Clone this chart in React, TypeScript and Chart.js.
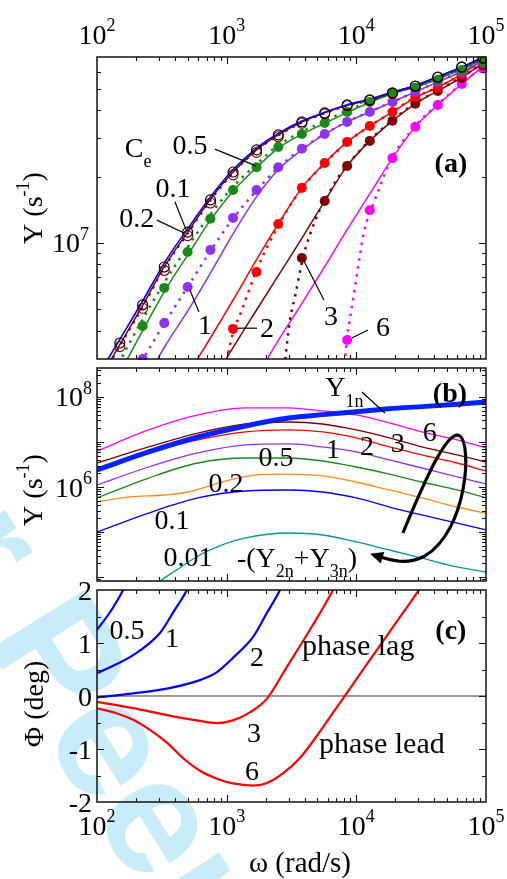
import React, { useEffect, useRef } from "react";
import { Chart, registerables } from "chart.js";
Chart.register(...registerables);

const W = 507;
const H = 879;
const FAMILY = '"Liberation Serif", "DejaVu Serif", serif';

// ---------------- shared x axis ----------------
const X_MIN = 100;
const X_MAX = 100000;
const xDecades = [100, 1000, 10000, 100000];
const xDecadeExp = ["2", "3", "4", "5"];
const minorMult = [2, 3, 4, 5, 6, 7, 8, 9];

// ---------------- panel (a) ----------------
const A_YMIN = 2.97e6;
const A_YMAX = 7.0e7;
const aYMajor = [1e7];
const aYMajorExp = ["7"];
const aYMinor = [3e6, 4e6, 5e6, 6e6, 7e6, 8e6, 9e6, 2e7, 3e7, 4e7, 5e7, 6e7];

const omegaA = [150, 225, 330, 500, 750, 1120, 1700, 2500, 3800, 5700, 8500, 12700, 19000, 28500, 42500, 65000, 95000];
const circOpen01 = [3.51e6, 5.23e6, 7.78e6, 1.12e7, 1.57e7, 2.1e7, 2.65e7, 3.1e7, 3.55e7, 3.9e7, 4.24e7, 4.47e7, 4.81e7, 5.17e7, 5.68e7, 6.31e7, 6.93e7];
const circOpen02 = [3.38e6, 5.05e6, 7.5e6, 1.08e7, 1.52e7, 2.04e7, 2.58e7, 3.04e7, 3.5e7, 3.86e7, 4.2e7, 4.44e7, 4.78e7, 5.14e7, 5.65e7, 6.28e7, 6.9e7];
const circ05 = [null, 4.2e6, 6.25e6, 9.1e6, 1.29e7, 1.74e7, 2.21e7, 2.73e7, 3.13e7, 3.51e7, 3.94e7, 4.37e7, 4.81e7, 5.07e7, 5.51e7, 6.11e7, 6.65e7];
const circ1 = [null, 2.97e6, 4.33e6, 6.31e6, 9.3e6, 1.3e7, 1.74e7, 2.21e7, 2.68e7, 3.13e7, 3.55e7, 3.94e7, 4.37e7, 4.86e7, 5.39e7, 5.99e7, 6.58e7];
const circ2 = [null, null, null, null, null, 4.07e6, 7.38e6, 1.22e7, 1.78e7, 2.31e7, 2.88e7, 3.4e7, 3.94e7, 4.61e7, 5.07e7, 5.85e7, 6.7e7];
const circ3 = [null, null, null, null, null, null, null, null, 8.55e6, 1.55e7, 2.24e7, 2.91e7, 3.59e7, 4.29e7, 4.91e7, 5.6e7, 6.4e7];
const circ6 = [null, null, null, null, null, null, null, null, null, null, 3.62e6, 1.41e7, 2.43e7, 3.37e7, 4.24e7, 5.28e7, 6.2e7];

const omegaLineA = [100, 150, 225, 330, 500, 750, 1120, 1700, 2500, 3800, 5700, 8500, 12700, 19000, 28500, 42500, 65000, 100000];
const line01 = [2.45e6, 3.65e6, 5.45e6, 8.1e6, 1.16e7, 1.62e7, 2.15e7, 2.7e7, 3.15e7, 3.58e7, 3.93e7, 4.25e7, 4.5e7, 4.85e7, 5.2e7, 5.7e7, 6.3e7, 7.1e7];
const line02 = [2.3e6, 3.45e6, 5.2e6, 7.8e6, 1.12e7, 1.58e7, 2.1e7, 2.65e7, 3.1e7, 3.54e7, 3.9e7, 4.22e7, 4.47e7, 4.82e7, 5.17e7, 5.67e7, 6.27e7, 7.05e7];
const dot02 = [2.25e6, 3.4e6, 5.1e6, 7.7e6, 1.1e7, 1.56e7, 2.08e7, 2.63e7, 3.08e7, 3.52e7, 3.88e7, 4.2e7, 4.45e7, 4.8e7, 5.15e7, 5.65e7, 6.25e7, 7.0e7];
const line05 = [1.55e6, 2.55e6, 4.0e6, 6.0e6, 8.8e6, 1.27e7, 1.72e7, 2.2e7, 2.7e7, 3.12e7, 3.5e7, 3.92e7, 4.35e7, 4.78e7, 5.1e7, 5.55e7, 6.15e7, 6.95e7];
const dot05 = [1.8e6, 2.9e6, 4.5e6, 6.6e6, 9.6e6, 1.35e7, 1.8e7, 2.28e7, 2.78e7, 3.2e7, 3.58e7, 4.0e7, 4.4e7, 4.82e7, 5.12e7, 5.58e7, 6.18e7, 6.95e7];
const line1 = [1.05e6, 1.55e6, 2.25e6, 3.35e6, 4.9e6, 7.3e6, 1.1e7, 1.62e7, 2.15e7, 2.65e7, 3.12e7, 3.55e7, 3.94e7, 4.37e7, 4.86e7, 5.39e7, 6.0e7, 6.85e7];
const dot1 = [1.3e6, 2.0e6, 2.95e6, 4.3e6, 6.3e6, 9.2e6, 1.29e7, 1.73e7, 2.2e7, 2.68e7, 3.13e7, 3.56e7, 3.95e7, 4.38e7, 4.87e7, 5.4e7, 6.0e7, 6.85e7];
const line2 = [4.5e5, 7.0e5, 1.05e6, 1.6e6, 2.5e6, 3.7e6, 5.5e6, 8.4e6, 1.22e7, 1.78e7, 2.31e7, 2.88e7, 3.4e7, 3.94e7, 4.58e7, 5.1e7, 5.85e7, 6.9e7];
const omegaDot2 = [900, 1000, 1120, 1300, 1700, 2500, 3800, 5700, 8500, 12700, 19000, 28500, 42500, 65000, 100000];
const dot2 = [2.1e6, 2.9e6, 3.9e6, 4.9e6, 7.5e6, 1.2e7, 1.77e7, 2.3e7, 2.87e7, 3.4e7, 3.95e7, 4.6e7, 5.1e7, 5.85e7, 6.9e7];
const omegaLine3 = [700, 1000, 1700, 2500, 3800, 5700, 8500, 12700, 19000, 28500, 42500, 65000, 100000];
const line3 = [2.1e6, 3.0e6, 4.96e6, 7.1e6, 1.05e7, 1.55e7, 2.24e7, 2.91e7, 3.59e7, 4.29e7, 4.91e7, 5.65e7, 6.7e7];
const omegaDot3 = [2700, 2864, 3077, 3362, 3876, 4385, 5236, 5929, 7079, 8466, 12700, 19000, 28500, 42500, 65000, 100000];
const dot3 = [2.3e6, 3.16e6, 4.47e6, 5.69e6, 8.55e6, 1.09e7, 1.42e7, 1.62e7, 1.95e7, 2.25e7, 2.93e7, 3.62e7, 4.32e7, 4.93e7, 5.68e7, 6.7e7];
const omegaLine6 = [1800, 2080, 2500, 3800, 5700, 8500, 12700, 19000, 28500, 42500, 65000, 100000];
const line6 = [2.5e6, 3.0e6, 3.6e6, 5.3e6, 7.8e6, 1.15e7, 1.67e7, 2.43e7, 3.37e7, 4.24e7, 5.28e7, 6.5e7];
const omegaDot6 = [8000, 8470, 9750, 10670, 11640, 13150, 15690, 18100, 28500, 42500, 65000, 100000];
const dot6 = [2.6e6, 3.62e6, 6.24e6, 8.82e6, 1.17e7, 1.44e7, 1.89e7, 2.33e7, 3.4e7, 4.27e7, 5.3e7, 6.5e7];

// ---------------- panel (b) ----------------
const B_YMIN = 8150;
const B_YMAX = 4.4e8;
const bYMajor = [1e4, 1e5, 1e6, 1e7, 1e8];
const bYLabelVals = [1e8, 1e6];
const bYLabelExp = ["8", "6"];
const bYMinorDecades = [1e3, 1e4, 1e5, 1e6, 1e7, 1e8];

const omegaB = [100, 250, 600, 1400, 3000, 5500, 10000, 18000, 32000, 60000, 100000];
const bY1n = [2.39e6, 6.0e6, 1.29e7, 2.27e7, 3.4e7, 4.05e7, 4.7e7, 5.5e7, 6.1e7, 6.9e7, 7.7e7];
const b6 = [6.3e6, 1.85e7, 3.98e7, 5.7e7, 5.75e7, 4.89e7, 3.98e7, 2.64e7, 1.67e7, 1.11e7, 7.36e6];
const b3 = [3.41e6, 7.74e6, 1.58e7, 2.51e7, 2.78e7, 2.51e7, 1.85e7, 1.23e7, 7.74e6, 5.14e6, 3.59e6];
const b2 = [2.27e6, 5.7e6, 1.11e7, 1.67e7, 1.85e7, 1.67e7, 1.23e7, 7.74e6, 5.14e6, 3.41e6, 2.27e6];
const b1 = [1.11e6, 2.78e6, 5.7e6, 8.58e6, 9.03e6, 7.74e6, 6.0e6, 3.98e6, 2.64e6, 1.67e6, 1.17e6];
const b05 = [5.7e5, 1.58e6, 3.41e6, 4.41e6, 4.41e6, 3.78e6, 2.78e6, 1.94e6, 1.29e6, 8.58e5, 5.7e5];
const b01 = [1.0e5, 2.64e5, 5.7e5, 8.15e5, 8.58e5, 7.74e5, 5.7e5, 3.59e5, 2.39e5, 1.58e5, 1.11e5];
const omegaB02 = [100, 180, 330, 500, 1060, 1700, 2800, 5500, 10000, 18000, 32000, 60000, 100000];
const b02 = [4.64e5, 6.0e5, 6.64e5, 7.74e5, 1.43e6, 1.85e6, 1.94e6, 1.76e6, 1.29e6, 8.58e5, 5.7e5, 3.59e5, 2.6e5];
const omegaB001 = [250, 300, 400, 600, 800, 1400, 3000, 5500, 10000, 18000, 32000, 60000, 100000];
const b001 = [4.6e3, 7.7e3, 1.36e4, 2.93e4, 4.4e4, 7.36e4, 9.5e4, 8.58e4, 6.0e4, 3.98e4, 2.64e4, 1.67e4, 1.29e4];

// ---------------- panel (c) ----------------
const C_YMIN = -2;
const C_YMAX = 2;
const cYMajor = [-2, -1, 0, 1, 2];
const cYLabels = ["-2", "-1", "0", "1", "2"];
const cYMinor = [-1.5, -0.5, 0.5, 1.5];

const omegaC05 = [100, 126, 159, 180];
const c05 = [1.25, 1.58, 2.0, 2.3];
const omegaC1 = [100, 190, 306, 385, 494, 560];
const c1 = [0.43, 0.77, 1.19, 1.57, 2.0, 2.3];
const omegaC2 = [100, 190, 346, 622, 842, 1118, 1594, 2046, 2575, 2900];
const c2 = [-0.03, 0.05, 0.14, 0.3, 0.45, 0.72, 1.11, 1.57, 2.0, 2.3];
const omegaC3 = [100, 190, 346, 622, 842, 1118, 1510, 2046, 2916, 4390, 6600, 7500];
const c3 = [-0.11, -0.23, -0.36, -0.47, -0.51, -0.46, -0.31, -0.05, 0.55, 1.25, 2.0, 2.3];
const omegaC6 = [100, 143, 190, 256, 346, 460, 622, 842, 1118, 1594, 2046, 2720, 3670, 4970, 6600, 8920, 12070, 19150, 30900, 35000];
const c6 = [-0.23, -0.33, -0.45, -0.64, -0.88, -1.17, -1.41, -1.56, -1.65, -1.69, -1.64, -1.46, -1.17, -0.75, -0.32, 0.14, 0.6, 1.3, 2.03, 2.25];
const omegaZero = [100, 100000];
const cZero = [0, 0];

// ---------------- colours ----------------
const BLUE = "#0000ff";
const MAROON = "#800000";
const GREEN = "#178a17";
const PURPLE = "#9030f0";
const RED = "#ff0000";
const MAGENTA = "#ff00ff";
const ORANGE = "#ff8c1a";
const TEAL = "#00999a";

type Part = { t: string; s?: "sub" | "sup"; bold?: boolean };
type Label = { x: number; y: number; parts: Part[]; align?: "left" | "center" | "right"; size?: number };

const P = (t: string, bold = false): Part[] => [{ t, bold }];

// annotations in data coordinates
const labelsA: Label[] = [
  { x: 164, y: 2.72e7, parts: [{ t: "C" }, { t: "e", s: "sub" }], align: "left" },
  { x: 521, y: 2.79e7, parts: P("0.5") },
  { x: 385, y: 1.78e7, parts: P("0.1") },
  { x: 203, y: 1.3e7, parts: P("0.2") },
  { x: 680, y: 4.28e6, parts: P("1") },
  { x: 2046, y: 4.15e6, parts: P("2") },
  { x: 6370, y: 4.66e6, parts: P("3") },
  { x: 16030, y: 4.19e6, parts: P("6") },
  { x: 53600, y: 2.31e7, parts: P("(a)", true) },
];
const leadersA = [
  [812, 2.67e7, 1683, 2.24e7],
  [399, 1.54e7, 486, 1.15e7],
  [290, 1.27e7, 469, 1.11e7],
  [611, 4.86e6, 521, 6.11e6],
  [1222, 4.1e6, 1713, 4.1e6],
  [3875, 8.45e6, 5624, 5.51e6],
  [9250, 3.7e6, 12290, 4.02e6],
];
const labelsB: Label[] = [
  { x: 5750, y: 1.67e8, parts: [{ t: "Y" }, { t: "1n", s: "sub" }], align: "left" },
  { x: 52700, y: 1.29e8, parts: P("(b)", true) },
  { x: 36900, y: 1.67e7, parts: P("6") },
  { x: 20900, y: 9.5e6, parts: P("3") },
  { x: 12070, y: 8.15e6, parts: P("2") },
  { x: 6600, y: 6.99e6, parts: P("1") },
  { x: 2400, y: 4.88e6, parts: P("0.5") },
  { x: 988, y: 1.23e6, parts: P("0.2") },
  { x: 379, y: 1.85e5, parts: P("0.1") },
  { x: 503, y: 2.93e4, parts: P("0.01") },
  {
    x: 1200,
    y: 2.78e4,
    parts: [{ t: "-(Y" }, { t: "2n", s: "sub" }, { t: "+Y" }, { t: "3n", s: "sub" }, { t: ")" }],
    align: "left",
  },
];
const leadersB = [[11050, 1.29e8, 16600, 4.4e7]];
// cubic path of the loop arrow: start, then (c1, c2, end) triples
const arrowB = [
  [22870, 9.5e4],
  [33800, 1.43e6], [50800, 2.05e7], [62900, 1.36e7],
  [77900, 9.03e6], [72500, 1.11e5], [33800, 2.93e4],
  [23700, 1.76e4], [18160, 2.39e4], [13670, 3.08e4],
];
const labelsC: Label[] = [
  { x: 170, y: 1.26, parts: P("0.5") },
  { x: 379, y: 1.11, parts: P("1") },
  { x: 1713, y: 0.74, parts: P("2") },
  { x: 3807, y: 0.972, parts: P("phase lag"), align: "left", size: 30 },
  { x: 1623, y: -0.68, parts: P("3") },
  { x: 1567, y: -1.4, parts: P("6") },
  { x: 5150, y: -0.887, parts: P("phase lead"), align: "left", size: 30 },
  { x: 53600, y: 1.26, parts: P("(c)", true) },
];

// ---------------- drawing helpers ----------------
const SIZE = 28;
function fontOf(p: Part, size: number) {
  const s = p.s ? Math.round(size * 0.64) : size;
  return `${p.bold ? "bold " : ""}${s}px ${FAMILY}`;
}
function drawRich(ctx: CanvasRenderingContext2D, parts: Part[], x: number, yc: number, align: string = "center", size = SIZE) {
  const base = yc + size * 0.34;
  let total = 0;
  const widths = parts.map((p) => {
    ctx.font = fontOf(p, size);
    const w = ctx.measureText(p.t).width;
    total += w;
    return w;
  });
  let cx = align === "left" ? x : align === "center" ? x - total / 2 : x - total;
  ctx.textAlign = "left";
  ctx.textBaseline = "alphabetic";
  parts.forEach((p, i) => {
    ctx.font = fontOf(p, size);
    const dy = p.s === "sub" ? size * 0.36 : p.s === "sup" ? -size * 0.46 : 0;
    ctx.fillText(p.t, cx, base + dy);
    cx += widths[i];
  });
}
const pow10 = (e: string): Part[] => [{ t: "10" }, { t: e, s: "sup" }];

function frameAndTicks(chart: any, yMajor: number[], yMinor: number[]) {
  const { ctx, chartArea } = chart;
  const { left, right, top, bottom } = chartArea;
  const xs = chart.scales.x;
  const ys = chart.scales.y;
  ctx.save();
  ctx.strokeStyle = "#111";
  ctx.lineWidth = 1.5;
  ctx.strokeRect(left, top, right - left, bottom - top);
  ctx.lineWidth = 1.1;
  ctx.beginPath();
  const xT: [number, number][] = [];
  xDecades.forEach((d, i) => {
    xT.push([d, 7]);
    if (i < xDecades.length - 1) minorMult.forEach((m) => xT.push([d * m, 4]));
  });
  xT.forEach(([v, len]) => {
    const px = Math.round(xs.getPixelForValue(v)) + 0.5;
    if (px < left + 1 || px > right - 1) return;
    ctx.moveTo(px, top);
    ctx.lineTo(px, top + len);
    ctx.moveTo(px, bottom);
    ctx.lineTo(px, bottom - len);
  });
  const yT: [number, number][] = [...yMajor.map((v) => [v, 7] as [number, number]), ...yMinor.map((v) => [v, 4] as [number, number])];
  yT.forEach(([v, len]) => {
    const py = Math.round(ys.getPixelForValue(v)) + 0.5;
    if (py < top + 1 || py > bottom - 1) return;
    ctx.moveTo(left, py);
    ctx.lineTo(left + len, py);
    ctx.moveTo(right, py);
    ctx.lineTo(right - len, py);
  });
  ctx.stroke();
  ctx.restore();
}

function drawLabels(chart: any, labels: Label[], leaders: number[][]) {
  const { ctx } = chart;
  const xs = chart.scales.x;
  const ys = chart.scales.y;
  ctx.save();
  ctx.fillStyle = "#000";
  labels.forEach((l) =>
    drawRich(ctx, l.parts, xs.getPixelForValue(l.x), ys.getPixelForValue(l.y), l.align || "center", l.size || SIZE)
  );
  ctx.strokeStyle = "#000";
  ctx.lineWidth = 1.2;
  leaders.forEach(([x1, y1, x2, y2]) => {
    ctx.beginPath();
    ctx.moveTo(xs.getPixelForValue(x1), ys.getPixelForValue(y1));
    ctx.lineTo(xs.getPixelForValue(x2), ys.getPixelForValue(y2));
    ctx.stroke();
  });
  ctx.restore();
}

function rotatedTitle(ctx: CanvasRenderingContext2D, parts: Part[], cx: number, cy: number) {
  ctx.save();
  ctx.translate(cx, cy);
  ctx.rotate(-Math.PI / 2);
  ctx.fillStyle = "#000";
  drawRich(ctx, parts, 0, 0, "center");
  ctx.restore();
}

// ---------------- datasets ----------------
const lineDs = (xs: number[], ys: number[], color: string, width = 1.5, dash: number[] = []) => ({
  data: xs.map((x, i) => ({ x, y: ys[i] })),
  showLine: true,
  borderColor: color,
  borderWidth: width,
  borderDash: dash,
  borderCapStyle: "butt",
  pointRadius: 0,
  pointHoverRadius: 0,
  fill: false,
  cubicInterpolationMode: "monotone",
  clip: 0,
});
const circDs = (xs: number[], ys: (number | null)[], color: string, open = false) => ({
  data: xs.map((x, i) => (ys[i] == null ? null : { x, y: ys[i] as number })).filter((p) => p !== null),
  showLine: false,
  pointRadius: 5,
  pointHoverRadius: 5,
  pointBackgroundColor: open ? "rgba(0,0,0,0)" : color,
  pointBorderColor: color,
  pointBorderWidth: open ? 1.1 : 0,
  clip: 1,
});
const DOT = [2.5, 5.5];

function baseOptions(padding: any, yType: string, yMin: number, yMax: number) {
  return {
    responsive: false,
    animation: false,
    devicePixelRatio: 1,
    events: [],
    layout: { padding },
    plugins: { legend: { display: false }, tooltip: { enabled: false }, title: { display: false } },
    scales: {
      x: { type: "logarithmic", min: X_MIN, max: X_MAX, display: false },
      y: { type: yType, min: yMin, max: yMax, display: false },
    },
  };
}

function configA(): any {
  return {
    type: "scatter",
    data: {
      datasets: [
        circDs(omegaA, circOpen01, "#000", true),
        circDs(omegaA, circOpen02, MAROON, true),
        circDs(omegaA, circ05, GREEN),
        circDs(omegaA, circ1, PURPLE),
        circDs(omegaA, circ2, RED),
        circDs(omegaA, circ3, MAROON),
        circDs(omegaA, circ6, MAGENTA),
        lineDs(omegaLineA, line01, BLUE, 1.6),
        lineDs(omegaLineA, line02, MAROON, 1.5),
        lineDs(omegaLineA, dot02, MAROON, 2, DOT),
        lineDs(omegaLineA, line05, GREEN, 1.5),
        lineDs(omegaLineA, dot05, GREEN, 2.5, DOT),
        lineDs(omegaLineA, line1, PURPLE, 1.5),
        lineDs(omegaLineA, dot1, PURPLE, 2.5, DOT),
        lineDs(omegaLineA, line2, RED, 1.5),
        lineDs(omegaDot2, dot2, RED, 2.5, DOT),
        lineDs(omegaLine3, line3, MAROON, 1.5),
        lineDs(omegaDot3, dot3, MAROON, 2.5, DOT),
        lineDs(omegaLine6, line6, MAGENTA, 1.5),
        lineDs(omegaDot6, dot6, MAGENTA, 2.5, DOT),
      ],
    },
    options: baseOptions({ left: 97, right: W - 486, top: 57, bottom: H - 359 }, "logarithmic", A_YMIN, A_YMAX),
    plugins: [
      {
        id: "decorA",
        afterDraw(chart: any) {
          const { ctx, chartArea } = chart;
          const xs = chart.scales.x;
          const ys = chart.scales.y;
          frameAndTicks(chart, aYMajor, aYMinor);
          drawLabels(chart, labelsA, leadersA);
          ctx.save();
          ctx.fillStyle = "#000";
          xDecades.forEach((d, i) => drawRich(ctx, pow10(xDecadeExp[i]), xs.getPixelForValue(d), 44 - SIZE * 0.34, "center"));
          aYMajor.forEach((v, i) => drawRich(ctx, pow10(aYMajorExp[i]), chartArea.left - 8, ys.getPixelForValue(v), "right"));
          rotatedTitle(ctx, [{ t: "Y (s" }, { t: "-1", s: "sup" }, { t: ")" }], 32, 208);
          ctx.restore();
        },
      },
    ],
  };
}

function configB(): any {
  const minors: number[] = [];
  bYMinorDecades.forEach((d) => minorMult.forEach((m) => {
    const v = d * m;
    if (v > B_YMIN && v < B_YMAX) minors.push(v);
  }));
  return {
    type: "scatter",
    data: {
      datasets: [
        lineDs(omegaB, bY1n, "#0022ff", 5),
        lineDs(omegaB, b6, MAGENTA, 1.3),
        lineDs(omegaB, b3, MAROON, 1.3),
        lineDs(omegaB, b2, RED, 1.3),
        lineDs(omegaB, b1, PURPLE, 1.3),
        lineDs(omegaB, b05, GREEN, 1.3),
        lineDs(omegaB02, b02, ORANGE, 1.3),
        lineDs(omegaB, b01, BLUE, 1.3),
        lineDs(omegaB001, b001, TEAL, 1.3),
      ],
    },
    options: baseOptions({ left: 97, right: W - 486, top: 368, bottom: H - 581 }, "logarithmic", B_YMIN, B_YMAX),
    plugins: [
      {
        id: "decorB",
        afterDraw(chart: any) {
          const { ctx, chartArea } = chart;
          const xs = chart.scales.x;
          const ys = chart.scales.y;
          frameAndTicks(chart, bYMajor, minors);
          drawLabels(chart, labelsB, leadersB);
          const pt = (i: number) => [xs.getPixelForValue(arrowB[i][0]), ys.getPixelForValue(arrowB[i][1])];
          ctx.save();
          ctx.strokeStyle = "#000";
          ctx.fillStyle = "#000";
          ctx.lineWidth = 3.2;
          ctx.beginPath();
          const p0 = pt(0);
          ctx.moveTo(p0[0], p0[1]);
          for (let i = 1; i + 2 < arrowB.length; i += 3) {
            const a = pt(i), b = pt(i + 1), c = pt(i + 2);
            ctx.bezierCurveTo(a[0], a[1], b[0], b[1], c[0], c[1]);
          }
          ctx.stroke();
          const tip = pt(arrowB.length - 1);
          const prev = pt(arrowB.length - 2);
          const ang = Math.atan2(tip[1] - prev[1], tip[0] - prev[0]);
          ctx.beginPath();
          ctx.moveTo(tip[0] + 4 * Math.cos(ang), tip[1] + 4 * Math.sin(ang));
          ctx.lineTo(tip[0] - 9 * Math.cos(ang) + 6 * Math.sin(ang), tip[1] - 9 * Math.sin(ang) - 6 * Math.cos(ang));
          ctx.lineTo(tip[0] - 9 * Math.cos(ang) - 6 * Math.sin(ang), tip[1] - 9 * Math.sin(ang) + 6 * Math.cos(ang));
          ctx.closePath();
          ctx.fill();
          bYLabelVals.forEach((v, i) => drawRich(ctx, pow10(bYLabelExp[i]), chartArea.left - 5, ys.getPixelForValue(v), "right"));
          rotatedTitle(ctx, [{ t: "Y (s" }, { t: "-1", s: "sup" }, { t: ")" }], 32, 490);
          ctx.restore();
        },
      },
    ],
  };
}

function configC(): any {
  return {
    type: "scatter",
    data: {
      datasets: [
        lineDs(omegaC05, c05, BLUE, 2.2),
        lineDs(omegaC1, c1, BLUE, 2.2),
        lineDs(omegaC2, c2, BLUE, 2.2),
        lineDs(omegaC3, c3, RED, 2.2),
        lineDs(omegaC6, c6, RED, 2.2),
        lineDs(omegaZero, cZero, "#777", 1.5),
      ],
    },
    options: baseOptions({ left: 97, right: W - 486, top: 590, bottom: H - 802 }, "linear", C_YMIN, C_YMAX),
    plugins: [
      {
        id: "decorC",
        afterDraw(chart: any) {
          const { ctx, chartArea } = chart;
          const xs = chart.scales.x;
          const ys = chart.scales.y;
          frameAndTicks(chart, cYMajor, cYMinor);
          drawLabels(chart, labelsC, []);
          ctx.save();
          ctx.fillStyle = "#000";
          cYMajor.forEach((v, i) => drawRich(ctx, P(cYLabels[i]), chartArea.left - 5, ys.getPixelForValue(v), "right"));
          xDecades.forEach((d, i) => drawRich(ctx, pow10(xDecadeExp[i]), xs.getPixelForValue(d), 835 - SIZE * 0.34, "center"));
          drawRich(ctx, P("ω (rad/s)"), 300, 862, "center", 29);
          rotatedTitle(ctx, P("Φ (deg)"), 33, 704);
          ctx.restore();
        },
      },
    ],
  };
}

export default function App() {
  const refA = useRef<HTMLCanvasElement>(null);
  const refB = useRef<HTMLCanvasElement>(null);
  const refC = useRef<HTMLCanvasElement>(null);
  useEffect(() => {
    const charts = [
      new Chart(refA.current as HTMLCanvasElement, configA()),
      new Chart(refB.current as HTMLCanvasElement, configB()),
      new Chart(refC.current as HTMLCanvasElement, configC()),
    ];
    return () => {
      charts.forEach((c) => c.destroy());
    };
  }, []);
  const cs: React.CSSProperties = { position: "absolute", left: 0, top: 0, width: W, height: H };
  return (
    <div style={{ position: "absolute", left: 0, top: 0, width: W, height: H, background: "#fff", overflow: "hidden" }}>
      <svg width={W} height={H} style={{ position: "absolute", left: 0, top: 0 }}>
        <text
          x={-181.6}
          y={375.9}
          transform="rotate(58 -181.6 375.9)"
          fontFamily='"Liberation Sans", Arial, sans-serif'
          fontWeight="bold"
          fontSize={165}
          fill="#c9ecfb"
        >
          For Peer Review
        </text>
      </svg>
      <canvas ref={refA} width={W} height={H} style={cs} />
      <canvas ref={refB} width={W} height={H} style={cs} />
      <canvas ref={refC} width={W} height={H} style={cs} />
    </div>
  );
}
